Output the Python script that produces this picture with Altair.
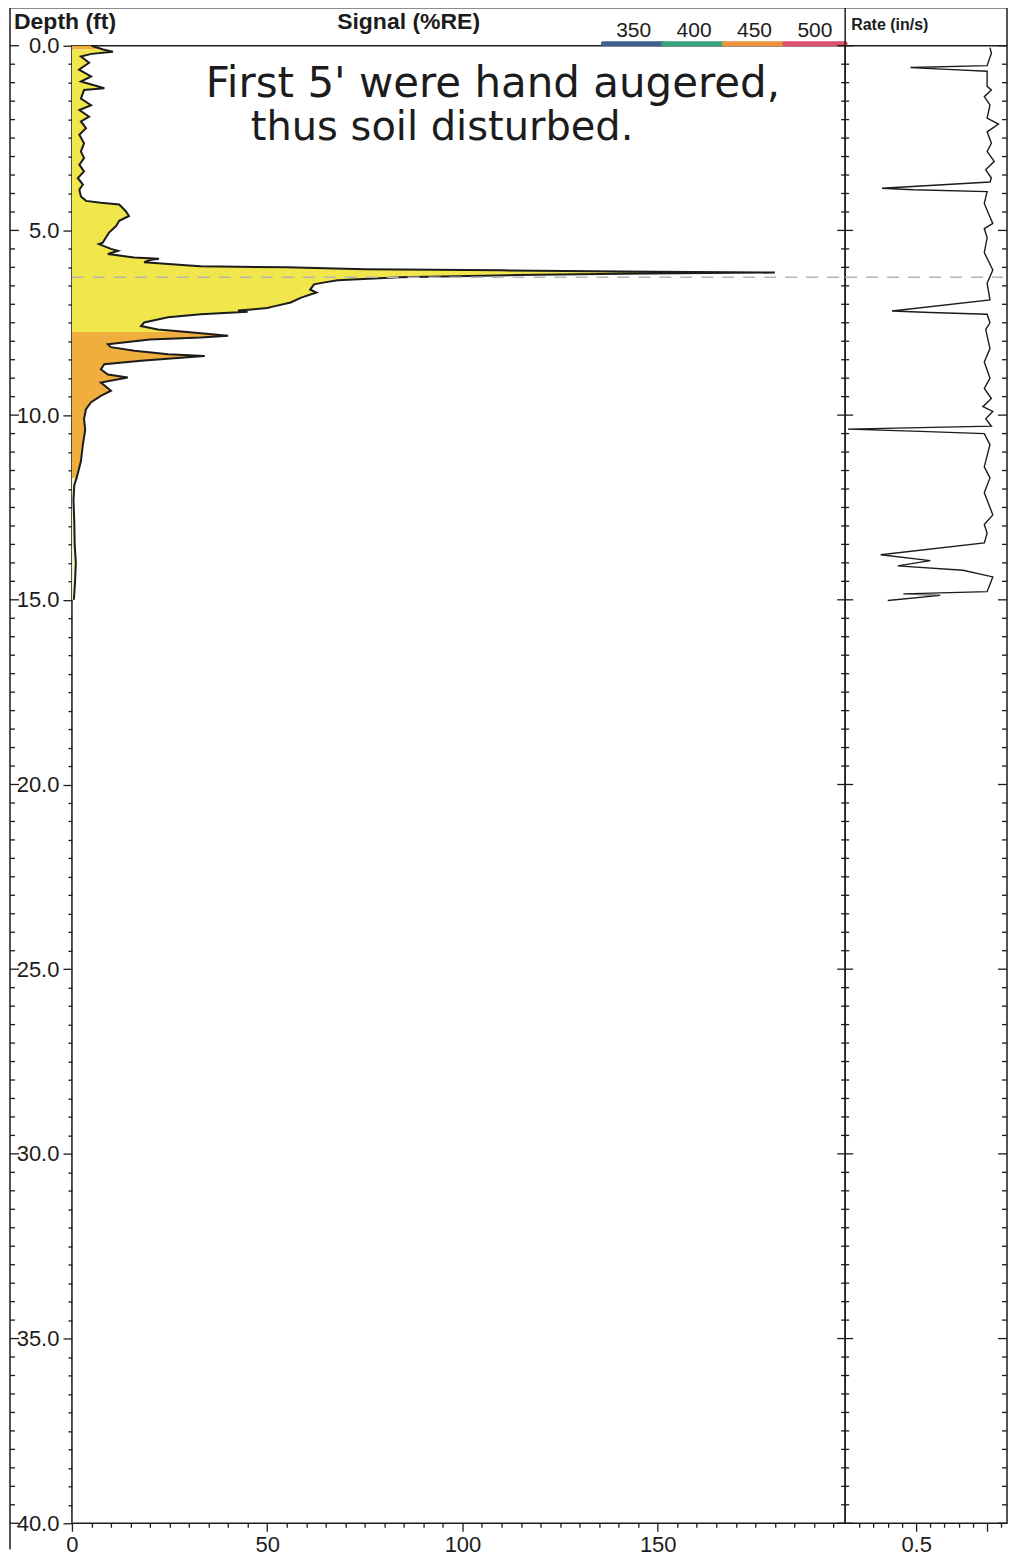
import altair as alt
import pandas as pd

# ---------------- data ----------------
# Signal (%RE) profile versus depth (ft)
sig_depth = [0.0, 0.1, 0.16, 0.22, 0.29, 0.46, 0.65, 0.83, 0.97, 1.15, 1.2, 1.43, 1.61, 1.74,
             1.92, 2.05, 2.23, 2.41, 2.64, 2.86, 3.04, 3.22, 3.40, 3.58, 3.76, 3.90, 4.08,
             4.20, 4.25, 4.30, 4.48, 4.61, 4.74, 4.88, 5.06, 5.19, 5.33, 5.37, 5.50, 5.55,
             5.64, 5.73, 5.77, 5.80, 5.86, 5.95, 5.97, 6.00, 6.05, 6.08, 6.11, 6.14, 6.17,
             6.21, 6.27, 6.35, 6.42, 6.46, 6.60, 6.68, 6.82, 6.95, 7.05, 7.10, 7.14, 7.17,
             7.20, 7.27, 7.35, 7.49, 7.59, 7.68, 7.75, 7.85, 7.90, 7.95, 8.08, 8.16, 8.26,
             8.35, 8.40, 8.44, 8.53, 8.62, 8.76, 8.90, 8.98, 9.12, 9.34, 9.48, 9.65, 9.84,
             10.1, 10.4, 10.8, 11.25, 11.7, 11.9, 12.3, 12.9, 13.5, 14.0, 14.5, 15.0]
sig_value = [5.0, 8.0, 10.5, 5.0, 2.3, 4.4, 1.8, 4.9, 2.3, 8.3, 3.1, 2.3, 4.9, 1.9,
             4.4, 2.3, 3.6, 1.9, 3.1, 2.3, 3.1, 1.9, 3.1, 1.5, 2.8, 1.9, 2.3,
             3.6, 7.4, 12.1, 13.8, 14.6, 12.1, 11.3, 9.5, 8.7, 7.9, 6.9, 10.0, 11.8,
             9.2, 15.9, 22.3, 20.0, 18.5, 30.0, 33.0, 55.0, 75.0, 110.0, 141.0, 180.0, 141.0,
             114.0, 84.0, 68.0, 64.0, 62.0, 61.0, 62.6, 58.7, 56.0, 52.0, 50.0, 46.0, 42.5,
             45.0, 33.0, 24.6, 18.5, 17.7, 22.0, 29.5, 40.0, 33.0, 20.0, 9.2, 10.0, 16.0,
             24.6, 34.0, 28.8, 17.7, 8.3, 7.4, 9.2, 14.3, 7.4, 10.0, 7.4, 4.9, 3.6,
             3.1, 3.4, 2.8, 2.3, 1.2, 0.6, 0.4, 0.6, 0.7, 1.0, 0.8, 0.5]

# colour bands of the fill (by depth range)
band_names = ["orange", "yellow", "orange", "pale"]
band_lo = [0.0, 0.1, 7.75, 11.7]
band_hi = [0.1, 7.75, 11.7, 15.0]

# Rate (in/s) versus depth (ft)
rate_depth = [0.05, 0.2, 0.54, 0.59, 0.64, 0.69, 1.1, 1.2, 1.38, 1.6, 1.96, 2.12, 2.33, 2.64,
              2.86, 3.13, 3.36, 3.58, 3.69, 3.86, 3.9, 3.95, 4.27, 4.55, 4.81, 4.95, 5.2,
              5.6, 6.07, 6.43, 6.88, 7.18, 7.22, 7.27, 7.5, 7.68, 8.2, 8.56, 9.0, 9.28,
              9.55, 9.77, 9.9, 10.1, 10.3, 10.38, 10.44, 10.5, 10.8, 11.4, 11.7, 12.1,
              12.7, 12.96, 13.2, 13.46, 13.78, 13.94, 14.08, 14.2, 14.38, 14.78, 14.84,
              14.88, 15.02]
rate_value = [1.02, 1.03, 1.0, 0.46, 0.72, 1.0, 1.0, 1.03, 0.98, 1.02, 1.0, 1.08, 1.0, 1.03,
              1.0, 1.05, 0.99, 1.03, 1.02, 0.26, 0.48, 1.0, 0.98, 1.01, 1.04, 0.98, 1.0,
              0.98, 1.04, 1.0, 1.02, 0.33, 0.6, 1.0, 1.02, 0.99, 1.02, 0.98, 1.02, 0.98,
              1.03, 0.97, 1.04, 0.99, 1.03, 0.02, 0.53, 0.98, 1.02, 0.98, 1.02, 0.98,
              1.04, 0.98, 1.0, 0.98, 0.25, 0.6, 0.37, 0.83, 1.04, 1.0, 0.41,
              0.67, 0.3]

# wavelength legend
wl_values = [350, 400, 450, 500]
wl_labels = ["350", "400", "450", "500"]

# dashed marker depth
marker_depth = [6.27]

# tick values
depth_ticks = [i * 0.5 for i in range(81)]
signal_ticks = list(range(0, 200, 5))
rate_ticks = [0.1, 0.2, 0.3, 0.4, 0.5, 0.6, 0.7, 0.8, 0.9, 1.0, 1.1]

# annotation
note_lines = ["First 5' were hand augered,", "thus soil disturbed."]

# ---------------- styling ----------------
W_LEFT, W_RIGHT, H = 774, 162, 1479
TOP = -38
FONT = "Liberation Sans"
INK = "#1c1c1c"
band_colors = ["#F0AE3E", "#F1E64C", "#F6F1C4"]
wl_colors = ["#3F5F8F", "#37A57E", "#EE9440", "#DF4F6E"]

# ---------------- tables ----------------
sig_df = pd.DataFrame({"depth": sig_depth, "signal": sig_value})
rows = []
for k, (name, lo, hi) in enumerate(zip(band_names, band_lo, band_hi)):
    for d, v in zip(sig_depth, sig_value):
        if lo <= d <= hi:
            rows.append({"depth": d, "signal": v, "band": name, "seg": k})
fill_df = pd.DataFrame(rows)
rate_df = pd.DataFrame({"depth": rate_depth, "rate": rate_value})
wl_df = pd.DataFrame({"wl": wl_values, "label": wl_labels,
                      "lo": [w - 25 for w in wl_values], "hi": [w + 25 for w in wl_values]})
mark_df = pd.DataFrame({"d": marker_depth})
tick_df = pd.DataFrame({"d": depth_ticks})
one = pd.DataFrame({"k": [0]})

yscale = alt.Scale(domain=[0, 40], reverse=True, nice=False, zero=False)
ymaj = {"condition": {"test": "datum.value % 5 == 0", "value": 9}, "value": 4}
xmaj = {"condition": {"test": "datum.value % 50 == 0", "value": 8}, "value": 4}
rmaj = {"condition": {"test": "abs(datum.value - 0.5) < 0.01 || abs(datum.value - 1.0) < 0.01",
                      "value": 8}, "value": 4}

sig_x = alt.Scale(domain=[0, 198], nice=False, zero=True)
yaxis = alt.Axis(values=depth_ticks, title=None, grid=False, domain=False,
                 labelExpr="datum.value % 5 == 0 ? format(datum.value, '.1f') : ''",
                 tickSize=ymaj, labelPadding=4, labelFlush=False, labelOverlap=False,
                 labelSeparation=0)
xaxis = alt.Axis(values=signal_ticks, title=None, grid=False, domain=False,
                 labelExpr="datum.value % 50 == 0 ? datum.label : ''",
                 tickSize=xmaj, labelPadding=3, labelFlush=False, labelOverlap=False)

area = alt.Chart(fill_df).mark_area(orient="horizontal").encode(
    y=alt.Y("depth:Q", scale=yscale, axis=yaxis),
    x=alt.X("signal:Q", scale=sig_x, axis=xaxis, stack=None),
    color=alt.Color("band:N", scale=alt.Scale(domain=["orange", "yellow", "pale"],
                                              range=band_colors), legend=None),
    detail="seg:N",
)
outline = alt.Chart(sig_df).mark_line(color=INK, strokeWidth=2).encode(
    y=alt.Y("depth:Q", scale=yscale, axis=yaxis),
    x=alt.X("signal:Q", scale=sig_x, axis=xaxis),
    order="depth:Q",
)
dash_left = alt.Chart(mark_df).mark_rule(color="#b5b5b5", strokeDash=[12, 9], strokeWidth=1.5).encode(
    y=alt.Y("d:Q", scale=yscale, axis=yaxis), x=alt.value(0), x2=alt.value(W_LEFT))

frame_top = alt.Chart(one).mark_rule(color=INK, strokeWidth=1.5).encode(
    x=alt.value(-62), x2=alt.value(W_LEFT), y=alt.value(TOP))
frame_left = alt.Chart(one).mark_rule(color=INK, strokeWidth=1.5).encode(
    x=alt.value(-62), y=alt.value(TOP), y2=alt.value(H + 26))
lt_minor = alt.Chart(tick_df).transform_filter("datum.d % 5 != 0").mark_rule(color=INK, strokeWidth=1.3).encode(
    y=alt.Y("d:Q", scale=yscale, axis=yaxis), x=alt.value(-62), x2=alt.value(-57))
lt_major = alt.Chart(tick_df).transform_filter("datum.d % 5 == 0").mark_rule(color=INK, strokeWidth=1.3).encode(
    y=alt.Y("d:Q", scale=yscale, axis=yaxis), x=alt.value(-62), x2=alt.value(-53))

hdr_depth = alt.Chart(one).mark_text(text="Depth (ft)", font=FONT, fontSize=23, fontWeight="bold",
                                     align="left", baseline="alphabetic", color=INK).encode(
    x=alt.value(-58), y=alt.value(-17))
hdr_signal = alt.Chart(one).mark_text(text="Signal (%RE)", font=FONT, fontSize=23, fontWeight="bold",
                                      align="center", baseline="alphabetic", color=INK).encode(
    x=alt.value(337), y=alt.value(-17))
note1 = alt.Chart(one).mark_text(text=note_lines[0], font="DejaVu Sans", fontSize=42,
                                 fontWeight="normal", align="left", baseline="alphabetic",
                                 color=INK).encode(x=alt.value(134), y=alt.value(51))
note2 = alt.Chart(one).mark_text(text=note_lines[1], font="DejaVu Sans", fontSize=40,
                                 fontWeight="normal", align="left", baseline="alphabetic",
                                 color=INK).encode(x=alt.value(179), y=alt.value(94))

main_group = alt.layer(area, outline, dash_left, frame_top, frame_left, lt_minor, lt_major,
                       hdr_depth, hdr_signal, note1, note2)

wl_scale = alt.Scale(domain=[325, 525], range=[532, W_LEFT], nice=False, zero=False)
wl_bar = alt.Chart(wl_df).mark_rule(strokeWidth=5, strokeCap="round").encode(
    x=alt.X("lo:Q", scale=wl_scale, axis=None), x2="hi:Q", y=alt.value(-2),
    color=alt.Color("label:N", scale=alt.Scale(domain=wl_labels, range=wl_colors), legend=None))
wl_text = alt.Chart(wl_df).mark_text(font=FONT, fontSize=21, baseline="alphabetic", color=INK).encode(
    x=alt.X("wl:Q", scale=wl_scale, axis=None), y=alt.value(-9), text="label:N")
legend_group = alt.layer(wl_bar, wl_text)

left = alt.layer(main_group, legend_group).resolve_scale(x="independent", color="independent").properties(
    width=W_LEFT, height=H)

# ---------------- rate panel ----------------
rate_x = alt.Scale(domain=[0, 1.14], nice=False, zero=True)
raxis = alt.Axis(values=rate_ticks, title=None, grid=False, domain=False,
                 labelExpr="abs(datum.value - 0.5) < 0.01 ? '0.5' : ''",
                 tickSize=rmaj, labelPadding=3, labelFlush=False, labelOverlap=False)
rate_line = alt.Chart(rate_df).mark_line(color=INK, strokeWidth=1.4).encode(
    y=alt.Y("depth:Q", scale=yscale, axis=None),
    x=alt.X("rate:Q", scale=rate_x, axis=raxis),
    order="depth:Q",
)
dash_right = alt.Chart(mark_df).mark_rule(color="#b5b5b5", strokeDash=[12, 9], strokeWidth=1.5).encode(
    y=alt.Y("d:Q", scale=yscale, axis=None), x=alt.value(0), x2=alt.value(W_RIGHT - 4))
r_minor_l = alt.Chart(tick_df).transform_filter("datum.d % 5 != 0").mark_rule(color=INK, strokeWidth=1.3).encode(
    y=alt.Y("d:Q", scale=yscale, axis=None), x=alt.value(-4), x2=alt.value(4))
r_major_l = alt.Chart(tick_df).transform_filter("datum.d % 5 == 0").mark_rule(color=INK, strokeWidth=1.3).encode(
    y=alt.Y("d:Q", scale=yscale, axis=None), x=alt.value(-8), x2=alt.value(8))
r_minor_r = alt.Chart(tick_df).transform_filter("datum.d % 5 != 0").mark_rule(color=INK, strokeWidth=1.3).encode(
    y=alt.Y("d:Q", scale=yscale, axis=None), x=alt.value(W_RIGHT - 5), x2=alt.value(W_RIGHT))
r_major_r = alt.Chart(tick_df).transform_filter("datum.d % 5 == 0").mark_rule(color=INK, strokeWidth=1.3).encode(
    y=alt.Y("d:Q", scale=yscale, axis=None), x=alt.value(W_RIGHT - 9), x2=alt.value(W_RIGHT))
r_top = alt.Chart(one).mark_rule(color=INK, strokeWidth=1.5).encode(
    x=alt.value(0), x2=alt.value(W_RIGHT), y=alt.value(TOP))
r_side_l = alt.Chart(one).mark_rule(color=INK, strokeWidth=1.5).encode(
    x=alt.value(0), y=alt.value(TOP), y2=alt.value(0))
r_side_r = alt.Chart(one).mark_rule(color=INK, strokeWidth=1.5).encode(
    x=alt.value(W_RIGHT), y=alt.value(TOP), y2=alt.value(0))
hdr_rate = alt.Chart(one).mark_text(text="Rate (in/s)", font=FONT, fontSize=16, fontWeight="bold",
                                    align="left", baseline="alphabetic", color=INK).encode(
    x=alt.value(6), y=alt.value(-16))

right = alt.layer(rate_line, dash_right, r_minor_l, r_major_l, r_minor_r, r_major_r,
                  r_top, r_side_l, r_side_r, hdr_rate).properties(width=W_RIGHT, height=H)

chart = alt.hconcat(left, right, spacing=0, bounds="flush",
                    padding={"left": 0, "top": -3, "right": 0, "bottom": 0}).configure_view(
    stroke=INK, strokeWidth=1.5
).configure_axis(
    labelFont=FONT, labelFontSize=22, labelColor=INK, tickColor=INK, tickWidth=1.3,
    labelOverlap=False
)

chart.save("out.html", embed_options={"renderer": "svg", "actions": False})
